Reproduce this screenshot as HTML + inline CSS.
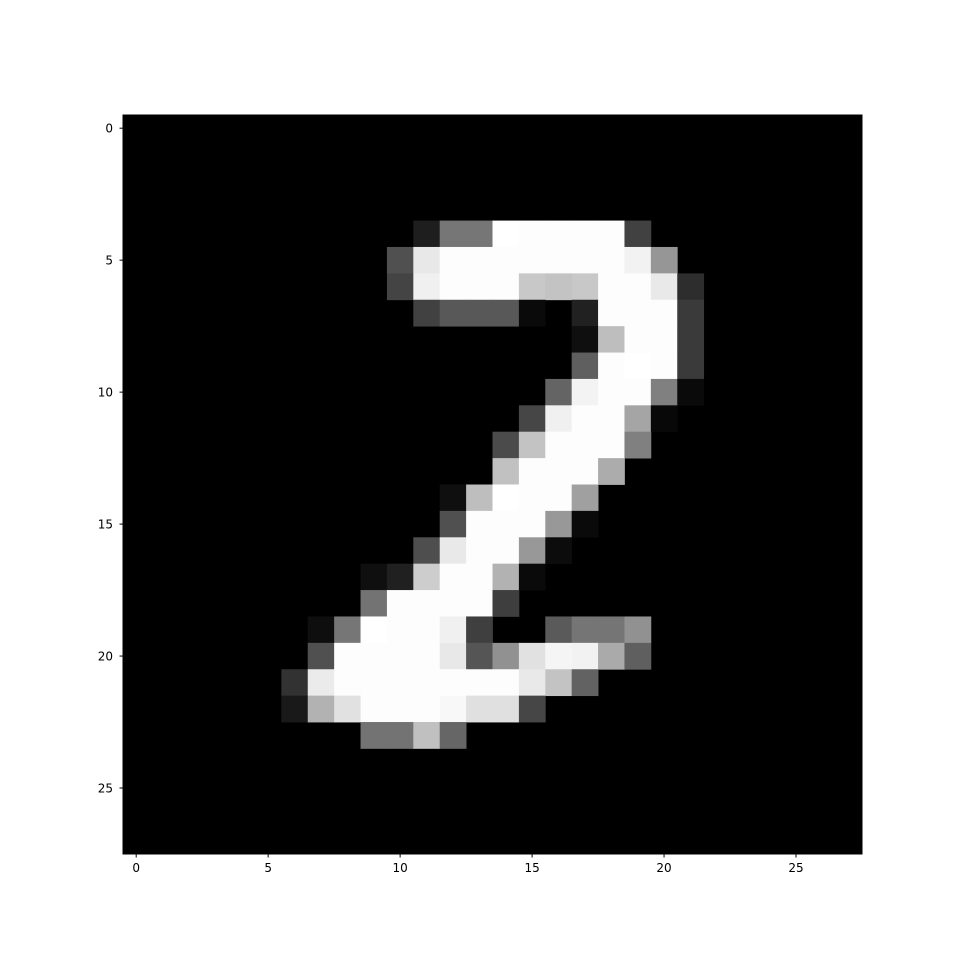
<!DOCTYPE html>
<html><head><meta charset="utf-8"><style>
html,body{margin:0;padding:0;background:#fff;width:960px;height:959px;overflow:hidden}
svg text{font-family:"DejaVu Sans","Liberation Sans",sans-serif;font-size:12px;fill:#000}
</style></head><body>
<svg id="chart" width="960" height="959" viewBox="0 0 960 959" xmlns="http://www.w3.org/2000/svg">
<g id="cells"></g>
<rect x="123" y="115" width="739" height="739" fill="none" stroke="#000" stroke-width="1"/>
<g id="xticks"></g>
<g id="yticks"></g>
</svg>
<script>
const rowIdx=[4,5,6,7,8,9,10,11,12,13,14,15,16,17,18,19,20,21,22,23];
const rowStart=[11,10,10,11,17,17,16,15,14,14,12,12,11,9,9,7,7,6,6,9];
const rowVals=[
[30,118,118,255,253,253,253,253,65],
[80,232,253,253,253,253,253,253,253,242,150],
[68,240,253,253,253,200,195,200,253,253,233,45],
[65,88,88,88,10,0,33,253,253,253,58],
[15,190,253,253,58],
[95,253,255,253,58],
[100,243,253,253,128,10],
[70,240,253,253,165,8],
[75,195,253,253,253,128],
[193,253,253,253,172],
[15,190,255,253,253,160],
[80,253,253,253,152,10],
[78,233,253,253,152,12],
[15,32,205,253,253,178,10],
[115,253,253,253,253,62],
[14,118,255,253,253,240,63,0,0,90,117,117,145],
[80,253,253,253,253,232,85,145,225,245,242,170,95],
[50,235,253,253,253,253,253,253,253,233,195,98],
[25,178,225,253,253,253,248,224,224,70],
[115,115,192,102]
];
const xTickVals=[0,5,10,15,20,25];
const yTickVals=[0,5,10,15,20,25];
const N=28;
const x0=123,y0=115,W=739;
const cs=W/N;
function xs(v){return x0+(v+0.5)*cs;}
function ys(v){return y0+(v+0.5)*cs;}
const NS="http://www.w3.org/2000/svg";
const cells=document.getElementById('cells');
const bg=document.createElementNS(NS,'rect');
bg.setAttribute('x',x0);bg.setAttribute('y',y0);bg.setAttribute('width',W);bg.setAttribute('height',W);bg.setAttribute('fill','#000');


cells.appendChild(bg);
rowIdx.forEach((r,i)=>{
  rowVals[i].forEach((v,j)=>{
    const c=rowStart[i]+j;
    if(v<=0)return;
    const el=document.createElementNS(NS,'rect');
    el.setAttribute('x',(xs(c)-cs/2).toFixed(2));
    el.setAttribute('y',(ys(r)-cs/2).toFixed(2));
    el.setAttribute('width',(cs+0.4).toFixed(2));
    el.setAttribute('height',(cs+0.4).toFixed(2));
    el.setAttribute('fill',`rgb(${v},${v},${v})`);
    
    
    cells.appendChild(el);
  });
});
const xg=document.getElementById('xticks');
xTickVals.forEach(t=>{
  const x=xs(t);
  const l=document.createElementNS(NS,'line');
  l.setAttribute('x1',x);l.setAttribute('x2',x);l.setAttribute('y1',854);l.setAttribute('y2',857.5);l.setAttribute('stroke','#000');
  
  
  xg.appendChild(l);
  const tx=document.createElementNS(NS,'text');
  tx.setAttribute('x',x);tx.setAttribute('y',872);tx.setAttribute('text-anchor','middle');tx.textContent=t;
  
  
  xg.appendChild(tx);
});
const yg=document.getElementById('yticks');
yTickVals.forEach(t=>{
  const y=ys(t);
  const l=document.createElementNS(NS,'line');
  l.setAttribute('x1',119.5);l.setAttribute('x2',123);l.setAttribute('y1',y);l.setAttribute('y2',y);l.setAttribute('stroke','#000');
  
  
  yg.appendChild(l);
  const tx=document.createElementNS(NS,'text');
  tx.setAttribute('x',113);tx.setAttribute('y',y+4.5);tx.setAttribute('text-anchor','end');tx.textContent=t;
  
  
  yg.appendChild(tx);
});
</script>
</body></html>
